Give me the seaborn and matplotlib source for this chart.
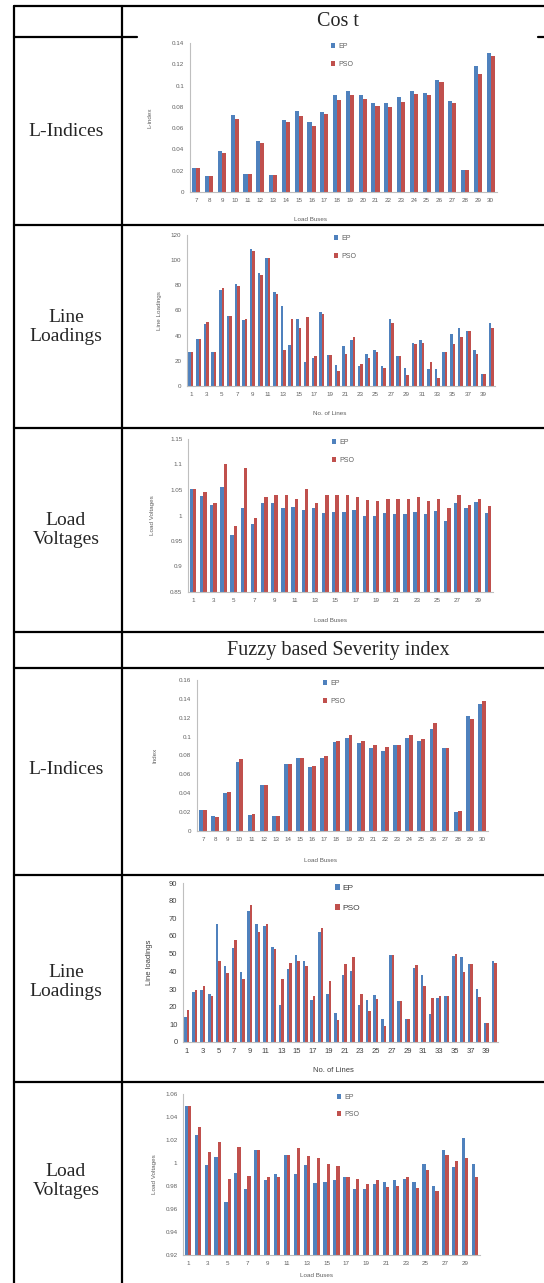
import numpy as np
import pandas as pd
import matplotlib
matplotlib.use("Agg")
import matplotlib.pyplot as plt
import seaborn as sns

# ---- categories ----
load_buses = [str(b) for b in range(7, 31)]
line_nos = [str(i) for i in range(1, 41)]
volt_buses = [str(b) for b in range(1, 31)]

# ---- Cost: L-Indices ----
cost_lidx_ep = [0.0225, 0.0153, 0.0387, 0.0723, 0.017, 0.0477, 0.016, 0.0677,
                0.0764, 0.066, 0.0748, 0.0907, 0.0951, 0.0914, 0.0839, 0.0833,
                0.0895, 0.0951, 0.0932, 0.1057, 0.0857, 0.0209, 0.1182, 0.131]
cost_lidx_pso = [0.0225, 0.0153, 0.037, 0.069, 0.017, 0.0458, 0.016, 0.0658,
                 0.0714, 0.0624, 0.073, 0.0864, 0.0914, 0.0876, 0.0808, 0.0801,
                 0.0842, 0.0917, 0.0907, 0.1038, 0.0833, 0.0209, 0.1107, 0.1278]

# ---- Cost: Line loadings ----
cost_line_ep = [27, 37.7, 49.6, 27, 76, 56, 80.7, 52.8, 108.6, 90,
                102, 74.9, 63.7, 32.9, 53, 19, 22.6, 59, 24.4, 16.5,
                31.9, 36.4, 16, 25.7, 28.4, 16, 53, 23.9, 14.6, 34.5,
                36.4, 13.3, 13.8, 27, 41, 45.7, 43.5, 28.4, 9.8, 50]
cost_line_pso = [27, 37.7, 51, 27, 77.5, 56, 79.6, 53.6, 107.2, 88,
                 102, 73, 28.4, 53, 46, 54.7, 23.6, 57, 24.4, 11.7,
                 25.7, 39, 17.8, 22.3, 27, 14.6, 50.4, 23.9, 9, 33.2,
                 34.5, 19, 6.6, 27, 33, 39, 43.5, 25.2, 9.8, 45.7]

# ---- Cost: Load voltages ----
cost_volt_ep = [1.051, 1.038, 1.021, 1.055, 0.961, 1.014, 0.984, 1.024, 1.025, 1.014,
                1.017, 1.011, 1.014, 1.004, 1.006, 1.006, 1.011, 0.999, 0.999, 1.004,
                1.003, 1.003, 1.006, 1.003, 1.009, 0.99, 1.024, 1.014, 1.026, 1.004]
cost_volt_pso = [1.051, 1.047, 1.024, 1.101, 0.98, 1.094, 0.996, 1.037, 1.04, 1.04,
                 1.033, 1.052, 1.025, 1.04, 1.04, 1.04, 1.037, 1.031, 1.028, 1.032,
                 1.032, 1.032, 1.037, 1.028, 1.032, 1.014, 1.04, 1.02, 1.032, 1.018]

# ---- Fuzzy severity: L-Indices ----
fz_lidx_ep = [0.0223, 0.0159, 0.0399, 0.0735, 0.017, 0.0487, 0.0159, 0.071,
              0.0777, 0.0675, 0.0777, 0.094, 0.0982, 0.0936, 0.0876, 0.0851,
              0.0911, 0.0989, 0.0957, 0.1081, 0.0876, 0.0198, 0.1219, 0.1346]
fz_lidx_pso = [0.0223, 0.0152, 0.041, 0.0763, 0.0177, 0.0487, 0.0159, 0.071,
               0.0777, 0.0689, 0.0795, 0.0954, 0.1017, 0.0957, 0.0911, 0.0894,
               0.0911, 0.1017, 0.0978, 0.1141, 0.0876, 0.0215, 0.1183, 0.1381]

# ---- Fuzzy severity: Line loadings ----
fz_line_ep = [14.2, 28.1, 29.4, 27.4, 67, 42.8, 53.2, 39.6, 74, 67,
              65.5, 53.6, 20.8, 41.5, 49, 45.7, 23.6, 62.3, 27.4, 16.4,
              37.7, 40.4, 20.8, 24, 26.8, 13.2, 49, 23, 13.2, 41.9,
              38.1, 15.8, 24.9, 26.2, 48.9, 47.9, 44.2, 30.2, 10.8, 45.7]
fz_line_pso = [17.9, 29.2, 31.5, 26.2, 46, 39, 57.9, 35.8, 77.7, 62.3,
               67, 52.8, 35.8, 44.7, 45.7, 42.8, 26.2, 64.5, 34.7, 12.6,
               44.2, 48.1, 27.2, 17.7, 24.5, 9.2, 49.4, 23, 13.2, 43.4,
               31.5, 24.9, 26.2, 26.2, 49.8, 39.4, 44.2, 25.3, 10.8, 44.7]

# ---- Fuzzy severity: Load voltages ----
fz_volt_ep = [1.0498, 1.0246, 0.9985, 1.0051, 0.9665, 0.9911, 0.9772, 1.0116, 0.9853, 0.9906,
              1.0072, 0.9906, 0.9985, 0.9824, 0.9839, 0.9853, 0.9882, 0.9772, 0.9772, 0.9818,
              0.9839, 0.9853, 0.9859, 0.9839, 0.9991, 0.9804, 1.0116, 0.9961, 1.0217, 0.9994]
fz_volt_pso = [1.0498, 1.031, 1.0095, 1.0182, 0.9859, 1.0136, 0.9891, 1.0116, 0.9877, 0.9882,
               1.0072, 1.013, 1.0057, 1.0043, 0.9991, 0.997, 0.9874, 0.9862, 0.9818, 0.9853,
               0.979, 0.9804, 0.9882, 0.9781, 0.9941, 0.9758, 1.0072, 1.002, 1.0043, 0.9877]

methods = ["EP", "PSO"]
section_titles = ["Cos t", "Fuzzy based Severity index"]
row_labels = ["L-Indices", "Line\nLoadings", "Load\nVoltages"]

sns.set_style("white")
plt.rcParams["font.family"] = ["Liberation Sans", "DejaVu Sans"]

W, H = 544, 1283
fig = plt.figure(figsize=(W / 100, H / 100), dpi=100)
fig.patch.set_facecolor("white")

# table frame drawn in pixel coordinates
bg = fig.add_axes([0, 0, 1, 1])
bg.set_xlim(0, W)
bg.set_ylim(H, 0)
bg.axis("off")
lw = 1.6
bg.plot([14, W], [6, 6], color="black", lw=lw)
bg.plot([14, 14], [6, H], color="black", lw=lw)
bg.plot([122, 122], [6, H], color="black", lw=lw)
bg.plot([14, 137], [37, 37], color="black", lw=lw)
bg.plot([538, W], [37, 37], color="black", lw=lw)
for yy in [225, 428, 632, 668, 875, 1082]:
    bg.plot([14, W], [yy, yy], color="black", lw=lw)

serif = ["Liberation Serif", "DejaVu Serif"]
bg.text(338, 22, section_titles[0], ha="center", va="center", fontsize=14.5, family=serif)
bg.text(338, 651, section_titles[1], ha="center", va="center", fontsize=14.5,
        family=serif)
for yc, lab in zip([131, 327, 530, 770, 982, 1181], row_labels * 2):
    bg.text(66, yc, lab, ha="center", va="center", fontsize=14, family=serif,
            linespacing=1.15)

palette = {"EP": "#4F81BD", "PSO": "#C0504D"}


def draw(box, cats, ep, pso, ylim, yticks, ylabel, xlabel, step,
         ylab_off, xlab_off, xlab_cx, leg_x, fs=4.5, tc="#606060"):
    left, top, right, bottom = box
    ax = fig.add_axes([left / W, 1 - bottom / H, (right - left) / W, (bottom - top) / H])
    df = pd.DataFrame({"cat": cats * 2, "value": ep + pso,
                       "method": [methods[0]] * len(cats) + [methods[1]] * len(cats)})
    sns.barplot(data=df, x="cat", y="value", hue="method", order=cats,
                palette=palette, width=0.64, errorbar=None, linewidth=0,
                saturation=1, ax=ax)
    ax.set_ylim(*ylim)
    ax.set_xlim(-0.5, len(cats) - 0.5)
    ax.set_yticks(yticks)
    ax.set_yticklabels(["%g" % t for t in yticks])
    ax.set_xticks(range(0, len(cats), step))
    ax.set_xticklabels(cats[::step])
    ax.tick_params(axis="both", labelsize=fs, colors=tc, length=2, width=0.5, pad=2)
    for s in ["top", "right"]:
        ax.spines[s].set_visible(False)
    for s in ["left", "bottom"]:
        ax.spines[s].set_color("#BFBFBF")
        ax.spines[s].set_linewidth(0.8)
    ax.set_facecolor("none")
    ax.set_ylabel(ylabel, fontsize=fs, color=tc)
    ax.set_xlabel(xlabel, fontsize=fs, color=tc)
    ax.yaxis.set_label_coords(-ylab_off / (right - left), 0.5)
    ax.xaxis.set_label_coords((xlab_cx - left) / (right - left), -xlab_off / (bottom - top))
    ax.legend(loc="upper left", bbox_to_anchor=((leg_x - left) / (right - left), 1.04),
              frameon=False, fontsize=fs + 0.5, handlelength=0.6, handleheight=0.7,
              labelspacing=1.5, handletextpad=0.4, labelcolor=tc)
    return ax


yt_li = [0, 0.02, 0.04, 0.06, 0.08, 0.1, 0.12, 0.14]
yt_ll = [0, 20, 40, 60, 80, 100, 120]
yt_v1 = [0.85, 0.9, 0.95, 1.0, 1.05, 1.1, 1.15]
yt_li2 = [0, 0.02, 0.04, 0.06, 0.08, 0.1, 0.12, 0.14, 0.16]
yt_ll2 = [0, 10, 20, 30, 40, 50, 60, 70, 80, 90]
yt_v2 = [0.92, 0.94, 0.96, 0.98, 1.0, 1.02, 1.04, 1.06]

draw((190, 43, 497, 192), load_buses, cost_lidx_ep, cost_lidx_pso, (0, 0.14), yt_li,
     "L-index", "Load Buses", 1, 37, 25, 310, 325)
draw((187, 235, 495, 386), line_nos, cost_line_ep, cost_line_pso, (0, 120), yt_ll,
     "Line Loadings", "No. of Lines", 2, 25, 25, 330, 328)
draw((188, 439, 493, 592), volt_buses, cost_volt_ep, cost_volt_pso, (0.85, 1.15), yt_v1,
     "Load Voltages", "Load Buses", 2, 33, 26, 330, 326)
draw((197, 680, 488, 831), load_buses, fz_lidx_ep, fz_lidx_pso, (0, 0.16), yt_li2,
     "Index", "Load Buses", 1, 40, 27, 320, 317)
draw((183, 883, 498, 1042), line_nos, fz_line_ep, fz_line_pso, (0, 90), yt_ll2,
     "Line loadings", "No. of Lines", 2, 30, 25, 333, 327, fs=5.5, tc="#404040")
draw((183, 1094, 480, 1255), volt_buses, fz_volt_ep, fz_volt_pso, (0.92, 1.06), yt_v2,
     "Load Voltages", "Load Buses", 2, 26, 18, 317, 331)

fig.savefig("out.png", dpi=100, facecolor="white")
